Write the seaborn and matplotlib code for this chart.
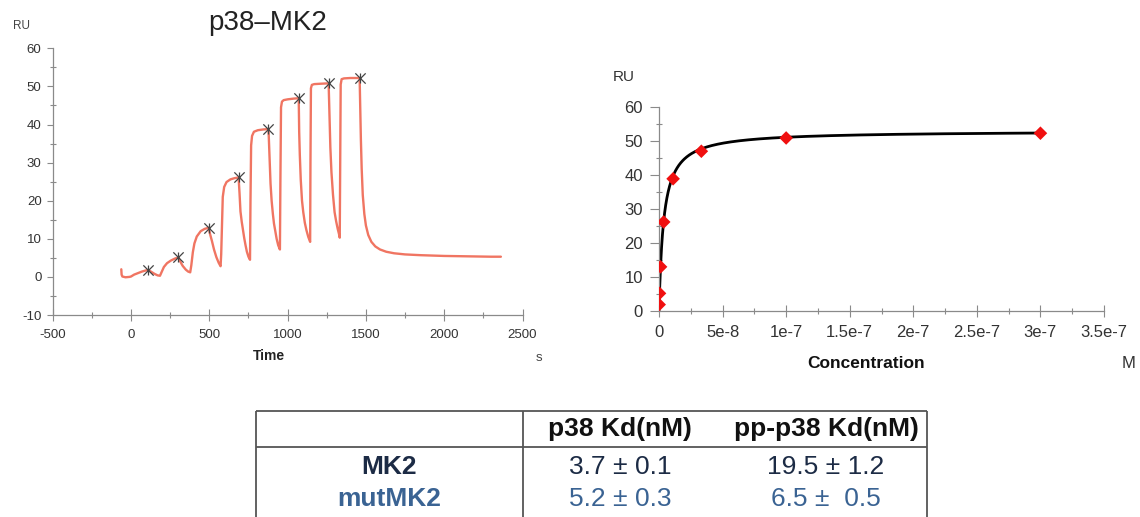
import numpy as np
import seaborn as sns
import matplotlib.pyplot as plt
from matplotlib.ticker import MultipleLocator, FixedLocator

sns.set_theme(style="ticks")
plt.rcParams["font.family"] = ["Liberation Sans", "DejaVu Sans"]
plt.rcParams["axes.unicode_minus"] = False

# ---- SPR sensorgram: single-cycle kinetics, p38 over immobilised MK2 ----
time_s = [
    -62, -60, -55, -35, -10, 0, 20, 45, 70, 95, 111, 130, 150, 170, 185,
    195, 210, 230, 255, 280, 302, 315, 330, 350, 365, 378,
    385, 395, 405, 420, 445, 470, 496, 505, 517, 530, 545, 560, 572,
    576, 581, 586, 595, 610, 635, 660, 687, 693, 699, 707, 714, 723, 731, 740, 750, 760,
    763, 767, 773, 785, 810, 845, 878, 882, 886, 891, 898, 906, 913, 922, 930, 940, 951,
    954, 958, 964, 975, 1000, 1040, 1071, 1074, 1078, 1084, 1092, 1100, 1110, 1120, 1132, 1144,
    1146, 1149, 1155, 1170, 1210, 1262, 1265, 1268, 1273, 1280, 1290, 1300, 1310, 1320, 1328, 1333,
    1336, 1339, 1345, 1360, 1400, 1460, 1464, 1468, 1473, 1480, 1490, 1500, 1515, 1535, 1560,
    1590, 1630, 1680, 1750, 1850, 2000, 2150, 2300, 2362,
]
response_ru = [
    2.0, 0.6, 0.1, -0.1, 0.0, 0.1, 0.6, 1.0, 1.4, 1.7, 1.8, 1.3, 0.8, 0.4, 0.3,
    1.2, 2.6, 3.6, 4.3, 4.8, 5.1, 4.0, 2.9, 1.9, 1.4, 1.2,
    3.0, 6.5, 8.8, 10.6, 12.0, 12.6, 12.9, 11.2, 9.4, 7.2, 5.2, 3.7, 2.8,
    6.0, 14.0, 21.0, 23.6, 24.9, 25.6, 25.9, 26.1, 22.0, 17.2, 14.5, 12.6, 10.2, 8.4, 6.6, 5.3, 4.5,
    20.0, 34.5, 37.0, 38.1, 38.5, 38.7, 38.8, 34.0, 30.0, 24.5, 20.0, 16.5, 14.0, 11.8, 10.0, 8.3, 7.2,
    25.0, 44.5, 46.0, 46.4, 46.6, 46.8, 46.9, 38.0, 32.0, 25.5, 20.0, 17.0, 14.2, 12.3, 10.5, 9.2,
    30.0, 49.5, 50.4, 50.6, 50.7, 50.8, 46.0, 41.0, 34.0, 27.5, 21.5, 17.0, 14.6, 12.6, 11.3, 10.3,
    30.0, 50.5, 51.9, 52.1, 52.2, 52.2, 44.0, 36.0, 28.5, 21.5, 16.5, 13.5, 11.0, 9.2, 8.0,
    7.2, 6.6, 6.2, 5.9, 5.7, 5.5, 5.4, 5.3, 5.3,
]

# report points at the end of each injection (steady-state response)
report_time_s = [111, 302, 496, 687, 878, 1071, 1262, 1460]
report_ru = [1.8, 5.1, 12.9, 26.1, 38.8, 46.9, 50.8, 52.2]

# injected p38 concentrations (M), 3-fold series, lowest first
conc_m = [1.37e-10, 4.12e-10, 1.23e-9, 3.7e-9, 1.11e-8, 3.33e-8, 1.0e-7, 3.0e-7]

# ---- Kd summary table ----
col_headers = ["p38 Kd(nM)", "pp-p38 Kd(nM)"]
row_labels = ["MK2", "mutMK2"]
kd_cells = [["3.7 ± 0.1", "19.5 ± 1.2"],
            ["5.2 ± 0.3", "6.5 ±  0.5"]]
row_colors = ["#1c2b45", "#3a6393"]

# 1:1 Langmuir steady-state fit for MK2 (Kd from the table)
KD_MK2 = 3.7e-9
RMAX = 52.9
conc_fit = np.concatenate([np.linspace(0, 2e-8, 300), np.linspace(2e-8, 3e-7, 300)])
ru_fit = RMAX * conc_fit / (KD_MK2 + conc_fit)

W, H = 1140, 517
fig = plt.figure(figsize=(W / 100, H / 100), dpi=100)
fig.patch.set_facecolor("white")


def px_axes(x0, x1, y_top, y_bot):
    return fig.add_axes([x0 / W, 1 - y_bot / H, (x1 - x0) / W, (y_bot - y_top) / H])


def style_axes(ax, labelsize, ymaj_len, xpad, ypad):
    for s in ("top", "right"):
        ax.spines[s].set_visible(False)
    for s in ("left", "bottom"):
        ax.spines[s].set_color("#8a8a8a")
        ax.spines[s].set_linewidth(0.9)
    ax.set_facecolor("none")
    ax.tick_params(axis="y", which="major", direction="out", length=ymaj_len, width=0.8,
                   color="#8a8a8a", labelsize=labelsize, labelcolor="#333333", pad=ypad)
    ax.tick_params(axis="y", which="minor", direction="inout", length=5, width=0.8,
                   color="#8a8a8a")
    ax.tick_params(axis="x", which="major", direction="inout", length=9, width=0.8,
                   color="#8a8a8a", labelsize=labelsize, labelcolor="#333333", pad=xpad)
    ax.tick_params(axis="x", which="minor", direction="inout", length=5, width=0.8,
                   color="#8a8a8a")
    ax.set_xlabel("")
    ax.set_ylabel("")


# ---- left: sensorgram ----
ax1 = px_axes(52.7, 522.5, 48.3, 315.0)
sns.lineplot(x=time_s, y=response_ru, ax=ax1, color="#F07562", linewidth=1.7,
             estimator=None, sort=False)
sns.scatterplot(x=report_time_s, y=report_ru, ax=ax1, marker="x", s=55,
                color="#444444", linewidth=0.9, zorder=4)
sns.scatterplot(x=report_time_s, y=report_ru, ax=ax1, marker="|", s=55,
                color="#444444", linewidth=0.9, zorder=4)
ax1.set_xlim(-500, 2500)
ax1.set_ylim(-10, 60)
ax1.xaxis.set_major_locator(MultipleLocator(500))
ax1.xaxis.set_minor_locator(MultipleLocator(250))
ax1.yaxis.set_major_locator(MultipleLocator(10))
ax1.yaxis.set_minor_locator(MultipleLocator(5))
style_axes(ax1, 9.5, 4.5, 5.5, 3.5)

# ---- right: steady-state affinity ----
xticks_m = [0, 5e-8, 1e-7, 1.5e-7, 2e-7, 2.5e-7, 3e-7, 3.5e-7]
xtick_labels = ["0", "5e-8", "1e-7", "1.5e-7", "2e-7", "2.5e-7", "3e-7", "3.5e-7"]
xminor_m = [2.5e-8, 7.5e-8, 1.25e-7, 1.75e-7, 2.25e-7, 2.75e-7, 3.25e-7]

ax2 = px_axes(659.0, 1104.0, 106.7, 310.7)
sns.lineplot(x=conc_fit, y=ru_fit, ax=ax2, color="black", linewidth=2.0,
             estimator=None, sort=False)
sns.scatterplot(x=conc_m, y=report_ru, ax=ax2, marker="D", s=48,
                color="#F01010", edgecolor="none", zorder=4)
ax2.set_xlim(0, 3.5e-7)
ax2.set_ylim(0, 60)
ax2.xaxis.set_major_locator(FixedLocator(xticks_m))
ax2.xaxis.set_minor_locator(FixedLocator(xminor_m))
ax2.set_xticklabels(xtick_labels)
ax2.yaxis.set_major_locator(MultipleLocator(10))
ax2.yaxis.set_minor_locator(MultipleLocator(5))
style_axes(ax2, 12, 6.5, 6.0, 5.0)

# ---- overlay in pixel coordinates: titles, unit labels, table ----
ov = fig.add_axes([0, 0, 1, 1])
ov.set_xlim(0, W)
ov.set_ylim(H, 0)
ov.axis("off")
ov.set_facecolor("none")

ov.text(268, 23, "p38–MK2", fontsize=20, color="#222222", ha="center", va="center")
ov.text(22, 26, "RU", fontsize=8.5, color="#444444", ha="center", va="center")
ov.text(269, 356, "Time", fontsize=10, fontweight="bold", color="#222222",
        ha="center", va="center")
ov.text(539, 358, "s", fontsize=9.5, color="#444444", ha="center", va="center")
ov.text(624, 77, "RU", fontsize=11, color="#333333", ha="center", va="center")
ov.text(866, 363, "Concentration", fontsize=12.5, fontweight="bold", color="#111111",
        ha="center", va="center")
ov.text(1129, 364, "M", fontsize=12, color="#333333", ha="center", va="center")

# table frame
line_kw = dict(color="#555555", linewidth=1.3, solid_capstyle="butt")
tab_left, tab_div, tab_right = 256, 522.5, 927
tab_top, head_bot = 410.5, 446.5
ov.plot([tab_left, tab_right], [tab_top, tab_top], **line_kw)
ov.plot([tab_left, tab_right], [head_bot, head_bot], **line_kw)
for xv in (tab_left, tab_div, tab_right):
    ov.plot([xv, xv], [tab_top, H + 5], **line_kw)

col_x = [620, 826]
header_y = 429
row_y = [466.5, 499.5]
for cx, head in zip(col_x, col_headers):
    ov.text(cx, header_y, head, fontsize=19, fontweight="bold", color="#111111",
            ha="center", va="center")
for ry, lab, colr, cells in zip(row_y, row_labels, row_colors, kd_cells):
    ov.text(389, ry, lab, fontsize=19, fontweight="bold", color=colr,
            ha="center", va="center")
    for cx, val in zip(col_x, cells):
        ov.text(cx, ry, val, fontsize=19, color=colr, ha="center", va="center")

fig.savefig("out.png", dpi=100, facecolor="white")
